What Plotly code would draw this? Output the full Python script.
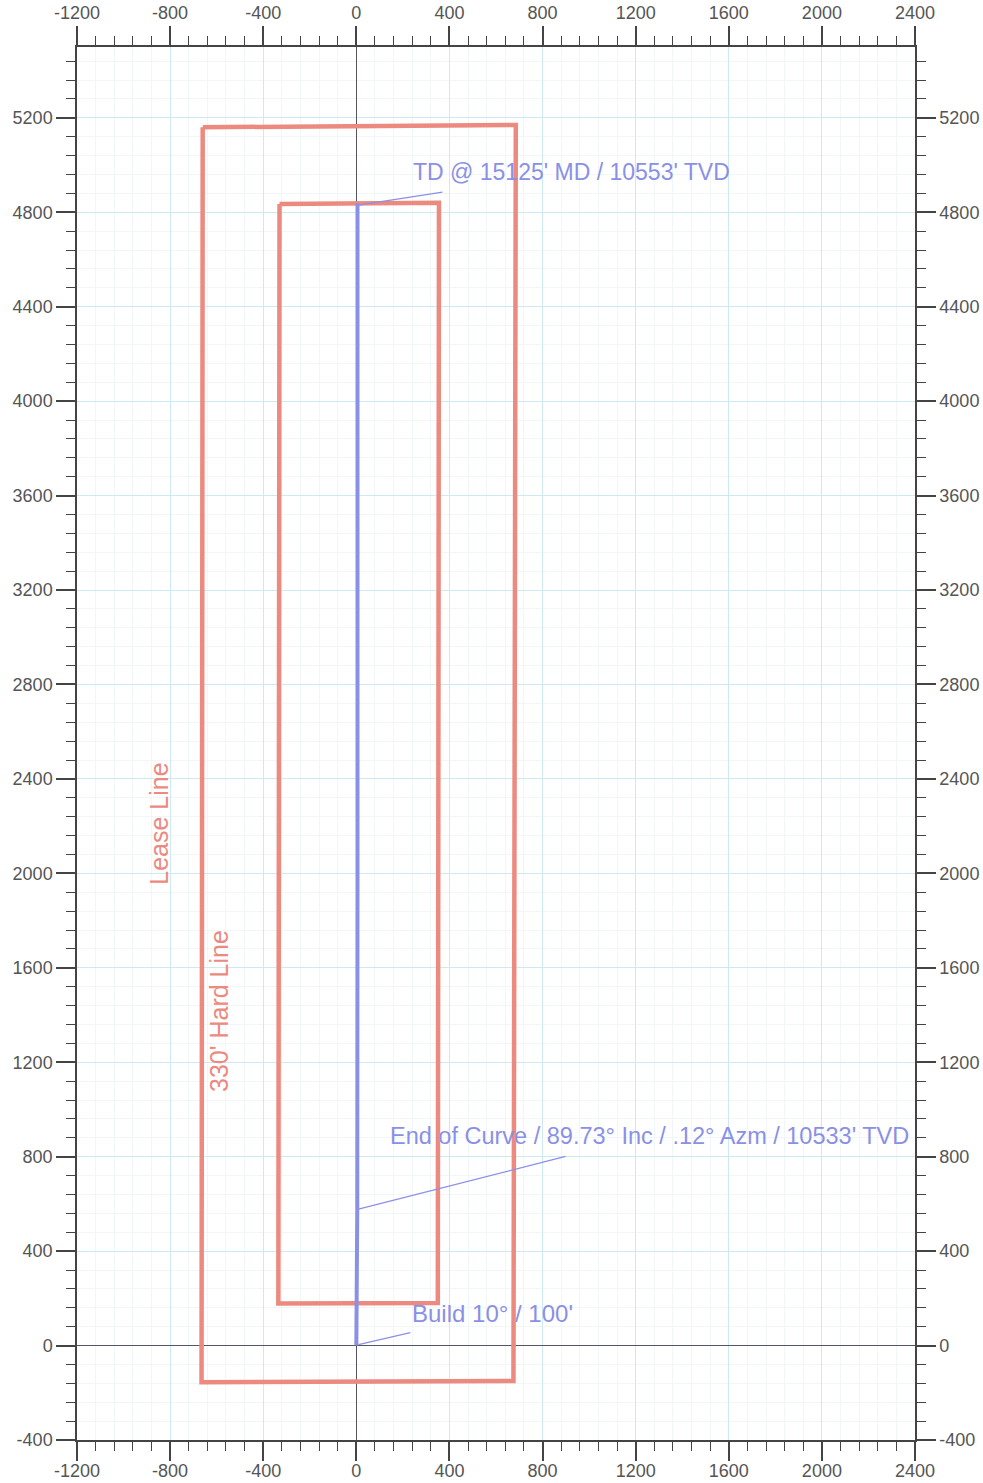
import plotly.graph_objects as go

# ---- data ----
lease_x = [-660, 685, 675, -665, -660]
lease_y = [5160, 5170, -150, -155, 5160]
hard_x = [-330, 355, 350, -335, -330]
hard_y = [4835, 4840, 180, 178, 4835]
well_x = [0, 1, 3, 4, 5, 5, 5]
well_y = [0, 100, 300, 577, 2000, 4000, 4838]
x_ticks = [-1200, -800, -400, 0, 400, 800, 1200, 1600, 2000, 2400]
y_ticks = [-400, 0, 400, 800, 1200, 1600, 2000, 2400, 2800, 3200, 3600, 4000, 4400, 4800, 5200]
labels = ["TD @ 15125' MD / 10553' TVD",
          "End of Curve / 89.73° Inc / .12° Azm / 10533' TVD",
          "Build 10° / 100'"]
label_x = [233, 134, 229]
label_y = [4970, 886, 136]
leader_x = [[9, 370], [5, 899], [9, 232]]
leader_y = [[4830, 4885], [577, 801], [4, 55]]
side_labels = ["Lease Line", "330' Hard Line"]
side_x = [-849, -591]
side_y = [2209, 1416]

XR = [-1200, 2400]
YR = [-400, 5500]
red = "#ec8a7f"
blue = "#8a90e6"
axc = "#444444"

fig = go.Figure()
fig.add_trace(go.Scatter(x=lease_x, y=lease_y, mode="lines",
                         line=dict(color=red, width=4.5), hoverinfo="skip"))
fig.add_trace(go.Scatter(x=hard_x, y=hard_y, mode="lines",
                         line=dict(color=red, width=4.5), hoverinfo="skip"))
for lx, ly in zip(leader_x, leader_y):
    fig.add_trace(go.Scatter(x=lx, y=ly, mode="lines",
                             line=dict(color=blue, width=1.3), hoverinfo="skip"))
fig.add_trace(go.Scatter(x=well_x, y=well_y, mode="lines",
                         line=dict(color=blue, width=4), hoverinfo="skip"))
# invisible trace for secondary axes
fig.add_trace(go.Scatter(x=[0], y=[0], xaxis="x2", yaxis="y2", mode="markers",
                         marker=dict(opacity=0), hoverinfo="skip"))

label_sizes = [23, 23.5, 24]
for t, x, y, s in zip(labels, label_x, label_y, label_sizes):
    fig.add_annotation(x=x, y=y, text=t, showarrow=False, xanchor="left",
                       yanchor="middle",
                       font=dict(family="Liberation Sans, Arial", size=s, color=blue))
for t, x, y in zip(side_labels, side_x, side_y):
    fig.add_annotation(x=x, y=y, text=t, showarrow=False, textangle=-90,
                       font=dict(family="Liberation Sans, Arial", size=25, color=red))

tickfont = dict(family="Liberation Sans, Arial", size=18, color="#555555")
x_text = [str(v) for v in x_ticks]
y_text = [str(v) for v in y_ticks]
common_x = dict(range=XR, tickvals=x_ticks, ticktext=x_text, ticks="outside", ticklen=19,
                tickwidth=1.5, tickcolor=axc, showline=True, linecolor=axc, linewidth=1.5,
                tickfont=tickfont, fixedrange=True, automargin=False)
common_y = dict(range=YR, tickvals=y_ticks, ticktext=y_text, ticks="outside", ticklen=19,
                tickwidth=1.5, tickcolor=axc, showline=True, linecolor=axc, linewidth=1.5,
                tickfont=tickfont, fixedrange=True, automargin=False)

fig.update_layout(
    width=983, height=1483,
    margin=dict(l=77, r=68, t=47, b=43),
    paper_bgcolor="white", plot_bgcolor="white",
    showlegend=False,
    xaxis=dict(**common_x, side="bottom", showgrid=True, gridcolor="#cdeaf3", gridwidth=1,
               ticklabelstandoff=-5,
               zeroline=True, zerolinecolor="#555566", zerolinewidth=1.2,
               minor=dict(dtick=80, tick0=0, ticks="outside", ticklen=9, tickwidth=1.3,
                          tickcolor=axc, showgrid=True, gridcolor="#f1f6f8", gridwidth=1)),
    xaxis2=dict(**common_x, side="top", overlaying="x", showgrid=False, zeroline=False,
                minor=dict(dtick=80, tick0=0, ticks="outside", ticklen=9, tickwidth=1.3,
                           tickcolor=axc, showgrid=False)),
    yaxis=dict(**common_y, side="left", showgrid=True, gridcolor="#cdeaf3", gridwidth=1,
               zeroline=True, zerolinecolor="#555566", zerolinewidth=1.2,
               minor=dict(dtick=80, tick0=0, ticks="outside", ticklen=9, tickwidth=1.3,
                          tickcolor=axc, showgrid=True, gridcolor="#f1f6f8", gridwidth=1)),
    yaxis2=dict(**common_y, side="right", overlaying="y", showgrid=False, zeroline=False,
                minor=dict(dtick=80, tick0=0, ticks="outside", ticklen=9, tickwidth=1.3,
                           tickcolor=axc, showgrid=False)),
)

fig.write_html("out.html", config={"displayModeBar": False},
               post_script="document.body.style.margin='0px';"
                           "document.body.style.overflow='hidden';")
